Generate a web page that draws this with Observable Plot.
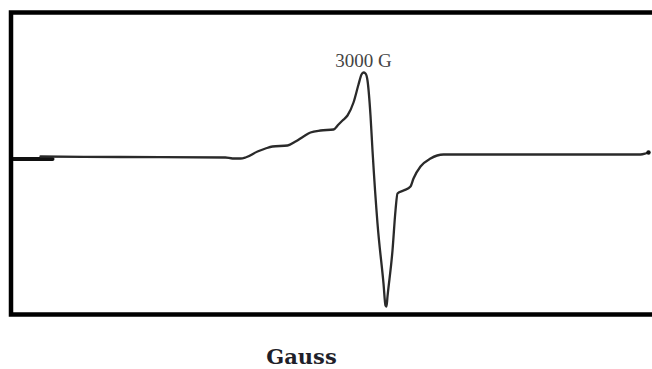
<!DOCTYPE html>
<html>
<head>
<meta charset="utf-8">
<script src="https://cdn.jsdelivr.net/npm/d3@7"></script>
<script src="https://cdn.jsdelivr.net/npm/@observablehq/plot@0.6"></script>
<style>
  html, body { margin: 0; padding: 0; background: #fff; overflow: hidden; }
  #chart svg { display: block; }
</style>
</head>
<body>
<div id="chart"></div>
<script>
// Magnetic field (Gauss) and EPR signal (arbitrary units, first derivative)
const field = [1385, 1785, 2310, 2345, 2385, 2410, 2470, 2510, 2545, 2620, 2660, 2700, 2735, 2785, 2850, 2875, 2895, 2920, 2950, 2975, 2990, 3000, 3010, 3020, 3035, 3045, 3070, 3100, 3110, 3115, 3120, 3145, 3160, 3170, 3200, 3235, 3250, 3285, 3335, 3400, 3485, 3935, 4385, 4410, 4425];
const signal = [1, 0.5, 0, -1, -1, 0, 6, 9, 11, 12, 16, 21, 25, 27, 28, 33, 37, 42, 55, 73, 83, 85, 84, 77, 42, 7, -66, -126, -148, -149, -139, -93, -53, -36, -33, -29, -21, -9, -1, 3, 3, 3, 3, 4, 5];
// short heavy baseline stub at the start of the sweep
const stubField = [1250, 1445];
const stubSignal = [-1.5, -1.5];
const peakLabel = "3000 G";
const peakField = 3000;
const peakSignal = 85;
const xLabel = "Gauss";
const xLabelField = 2690;

const spectrum = field.map((f, i) => ({field: f, signal: signal[i]}));
const stub = stubField.map((f, i) => ({field: f, signal: stubSignal[i]}));

const plot = Plot.plot({
  width: 652,
  height: 369,
  marginLeft: 10.5,
  marginRight: -8,
  marginTop: 12,
  marginBottom: 55,
  x: {domain: [1237.5, 4485], axis: null},
  y: {domain: [-157, 145], axis: null},
  marks: [
    Plot.line(stub, {x: "field", y: "signal", stroke: "#111", strokeWidth: 4}),
    Plot.line(spectrum, {x: "field", y: "signal", stroke: "#2a2a2a", strokeWidth: 2.3, curve: "monotone-x"}),
    Plot.dot([spectrum[spectrum.length - 1]], {x: "field", y: "signal", r: 2.2, fill: "#111"}),
    Plot.text([{field: peakField, signal: peakSignal}], {
      x: "field", y: "signal", text: () => peakLabel,
      lineAnchor: "bottom", dy: -6, fontSize: 19, fontFamily: "Liberation Serif",
      fill: "#444"
    }),
    Plot.text([xLabelField], {
      x: d => d, frameAnchor: "bottom", text: () => xLabel,
      lineAnchor: "bottom", dy: 49, fontSize: 21, fontWeight: "bold",
      fontFamily: "DejaVu Serif", fill: "#1f1f2a"
    }),
    Plot.frame({stroke: "#000", strokeWidth: 4.5})
  ]
});
document.getElementById("chart").appendChild(plot);
</script>
</body>
</html>
